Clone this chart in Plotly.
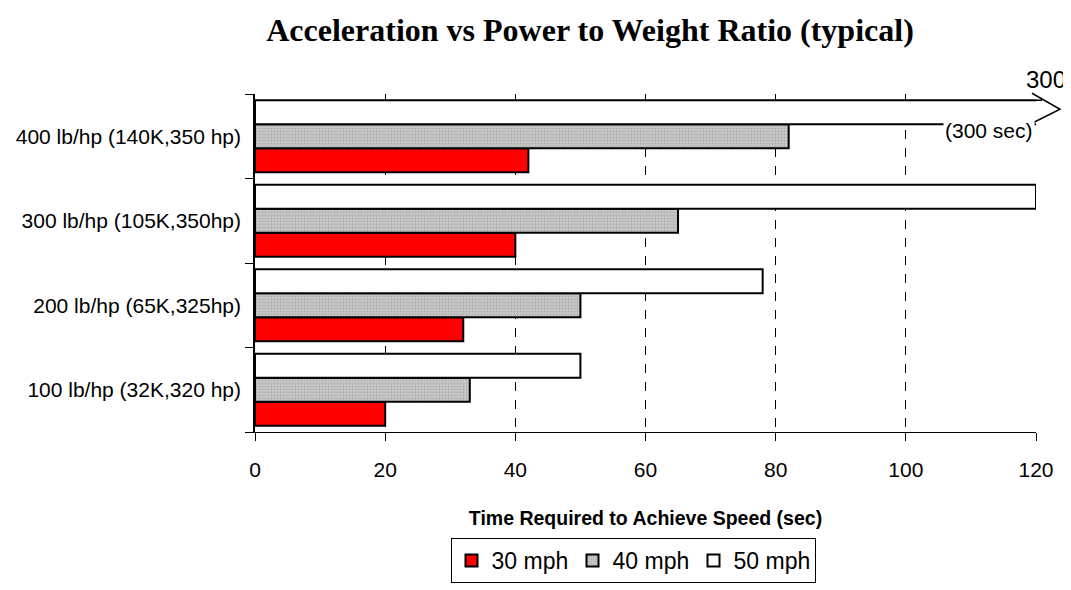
import plotly.graph_objects as go

categories = ["100 lb/hp (32K,320 hp)", "200 lb/hp (65K,325hp)",
              "300 lb/hp (105K,350hp)", "400 lb/hp (140K,350 hp)"]
mph30 = [20, 32, 40, 42]
mph40 = [33, 50, 65, 82]
mph50 = [50, 78, 120, 300]
series_names = ["30 mph", "40 mph", "50 mph"]
x_ticks = [0, 20, 40, 60, 80, 100, 120]

fig = go.Figure()
line = dict(color="black", width=2)
fig.add_trace(go.Bar(y=categories, x=mph30, name=series_names[0], orientation="h",
                     marker=dict(color="#ff0000", line=line)))
fig.add_trace(go.Bar(y=categories, x=mph40, name=series_names[1], orientation="h",
                     marker=dict(color="#c8c8c8", line=line,
                                 pattern=dict(shape=".", fgcolor="#909090", size=3, solidity=0.3))))
fig.add_trace(go.Bar(y=categories, x=mph50, name=series_names[2], orientation="h",
                     marker=dict(color="#ffffff", line=line)))

fig.update_layout(
    width=1071, height=590,
    margin=dict(l=247, r=43, t=86, b=166),
    paper_bgcolor="white", plot_bgcolor="white",
    barmode="group", bargap=0.148, bargroupgap=0,
    font=dict(family="Arial, Liberation Sans, sans-serif", color="black"),
    title=dict(text="<b>Acceleration vs Power to Weight Ratio (typical)</b>",
               font=dict(family="Times New Roman, Liberation Serif, serif", size=32, color="black"),
               x=(590 - 8) / 1071, xref="container", xanchor="center",
               y=1 - 22 / 590, yref="container", yanchor="middle"),
    legend=dict(orientation="h", x=0.484, xanchor="center", y=-0.38, yanchor="middle",
                bordercolor="black", borderwidth=1, font=dict(size=23),
                traceorder="normal", itemwidth=30, entrywidth=76),
    showlegend=True,
)
fig.update_xaxes(range=[0, 120], tickvals=x_ticks, showgrid=True, gridcolor="black",
                 griddash="dash", gridwidth=1, showline=True, linecolor="black", linewidth=1,
                 ticks="outside", ticklen=8, tickcolor="black", tickfont=dict(size=21),
                 ticklabelstandoff=11, zeroline=False, automargin=False,
                 title=dict(text="<b>Time Required to Achieve Speed (sec)</b>",
                            font=dict(size=19.5), standoff=31))
fig.update_yaxes(categoryorder="array", categoryarray=categories, showline=True,
                 linecolor="black", linewidth=1.5, ticks="outside", ticklen=8,
                 tickson="boundaries", tickcolor="black", tickfont=dict(size=21),
                 ticklabelstandoff=8, showgrid=False, automargin=False)

# overflow marker for the 300 sec bar
fig.add_annotation(x=120, y=categories[3], xref="x", yref="y", text="(300 sec)",
                   showarrow=False, xanchor="right", yanchor="middle", yshift=6, xshift=-1,
                   bgcolor="white", font=dict(size=21), borderpad=1)
fig.add_annotation(x=1.0, y=1.0, xref="paper", yref="paper", text=str(mph50[3]),
                   showarrow=False, xanchor="center", yanchor="bottom", xshift=10, yshift=-1,
                   font=dict(size=24))
fig.add_shape(type="path", xref="paper", yref="paper", xsizemode="pixel", ysizemode="pixel",
              xanchor=1.0, yanchor=(3 + 0.5) / len(categories),
              path="M-4,43 L24,27 L-4,13 M0,36 L6,36", line=dict(color="black", width=1.5))

fig.write_html("out.html")
